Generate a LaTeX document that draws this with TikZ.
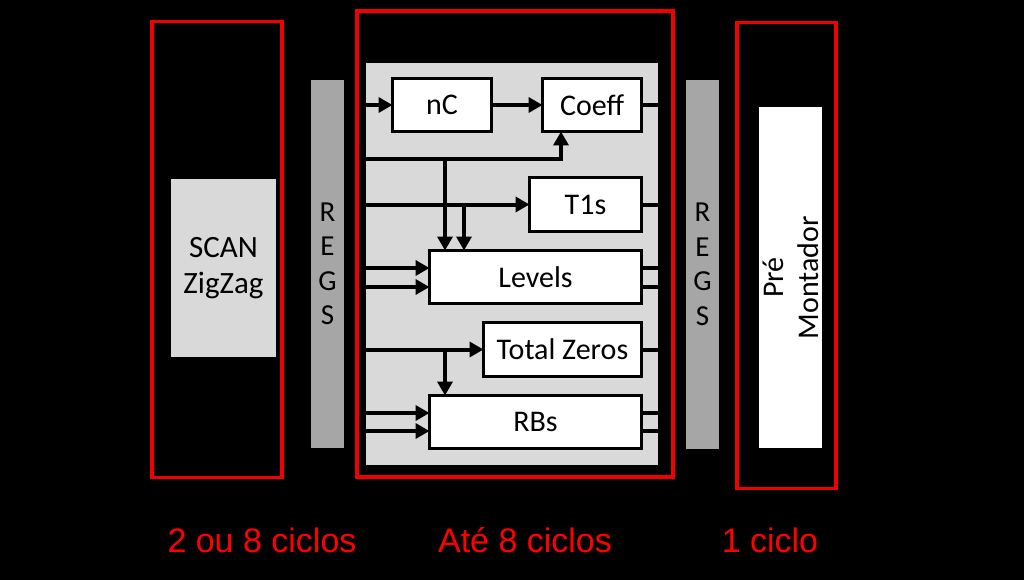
\documentclass[tikz,border=0pt]{standalone}
\usepackage{fontspec}
\setmainfont{Carlito}
\newfontfamily\arialf{Liberation Sans}
\usetikzlibrary{arrows.meta}
\definecolor{panelgrey}{HTML}{D9D9D9}
\definecolor{regsgrey}{HTML}{A6A6A6}
\definecolor{framered}{HTML}{F00000}
\tikzset{
  frame/.style={draw=framered, line width=3.5pt, inner sep=0pt, outer sep=0pt},
  blk/.style={draw=black, fill=white, line width=3.5pt, inner sep=0pt, outer sep=0pt, font=\fontsize{30}{32}\selectfont},
  regs/.style={fill=regsgrey, inner sep=0pt, outer sep=0pt, minimum width=33pt, minimum height=368pt, align=center, font=\fontsize{29}{34.5}\selectfont},
  arr/.style={line width=4pt, -{Triangle[length=14pt,width=15pt]}},
  stub/.style={line width=4pt},
  lbl/.style={text=red, font=\arialf\fontsize{34}{36}\selectfont}
}
\begin{document}
\begin{tikzpicture}[x=1pt,y=-1pt]
\fill[black] (0,0) rectangle (1024,580);
\useasboundingbox (0,0) rectangle (1024,580);

% left stage
\node[frame, minimum width=130pt, minimum height=456pt] (fL) at (217,249.5) {};
\node[fill=panelgrey, inner sep=0pt, minimum width=105pt, minimum height=178pt, align=center, font=\fontsize{31}{36}\selectfont] (scan) at (223.5,268) {SCAN\\ZigZag};
\node[regs] (regL) at (327.5,264) {R\\E\\G\\S};

% middle stage
\node[frame, minimum width=316pt, minimum height=466pt] (fM) at (515,244) {};
\node[fill=panelgrey, inner sep=0pt, outer sep=0pt, minimum width=292pt, minimum height=402pt] (panel) at (512,264) {};

\node[blk, minimum width=99pt, minimum height=53pt] (nC) at (442,105) {nC};
\node[blk, minimum width=99pt, minimum height=53pt] (coeff) at (592,105) {Coeff};
\node[blk, minimum width=112pt, minimum height=54pt] (t1s) at (585.5,204.5) {T1s};
\node[blk, minimum width=212pt, minimum height=53pt] (levels) at (535.5,277) {Levels};
\node[blk, minimum width=158pt, minimum height=54pt] (tz) at (562.5,349.5) {Total Zeros};
\node[blk, minimum width=212pt, minimum height=53pt] (rbs) at (535.5,422) {RBs};

% junction coordinates
\coordinate (j1) at (445,159);
\coordinate (j1c) at (561,159);
\coordinate (j2) at (464,205);
\coordinate (j3) at (445,349);

% nC / Coeff
\draw[arr] (panel.west |- nC.west) -- (nC.west);
\draw[arr] (nC.east) -- (coeff.west);
\draw[stub] (coeff.east) -- (panel.east |- coeff.east);
\draw[arr] (panel.west |- j1) -- (j1c) -- (coeff.south -| j1c);
\draw[arr] (j1) -- (levels.north -| j1);

% T1s
\draw[arr] (panel.west |- t1s.west) -- (t1s.west);
\draw[stub] (t1s.east) -- (panel.east |- t1s.east);
\draw[arr] (j2) -- (levels.north -| j2);

% Levels
\draw[arr] (panel.west |- 0,268) -- (levels.west |- 0,268);
\draw[arr] (panel.west |- 0,287) -- (levels.west |- 0,287);
\draw[stub] (levels.east |- 0,268) -- (panel.east |- 0,268);
\draw[stub] (levels.east |- 0,287) -- (panel.east |- 0,287);

% Total Zeros
\draw[arr] (panel.west |- tz.west) -- (tz.west);
\draw[stub] (tz.east) -- (panel.east |- tz.east);
\draw[arr] (j3) -- (rbs.north -| j3);

% RBs
\draw[arr] (panel.west |- 0,413) -- (rbs.west |- 0,413);
\draw[arr] (panel.west |- 0,431) -- (rbs.west |- 0,431);
\draw[stub] (rbs.east |- 0,413) -- (panel.east |- 0,413);
\draw[stub] (rbs.east |- 0,431) -- (panel.east |- 0,431);

% right stage
\node[regs] (regR) at (702.5,264.5) {R\\E\\G\\S};
\node[frame, minimum width=99pt, minimum height=466pt] (fR) at (786.5,255.5) {};
\node[fill=white, inner sep=0pt, minimum width=63pt, minimum height=341pt] (pre) at (790.5,277.5) {};
\node[rotate=90, align=center, font=\fontsize{30}{35}\selectfont] (pretxt) at (pre.center) {Pré\\Montador};

% labels
\node[lbl] (c1) at (262,540) {2 ou 8 ciclos};
\node[lbl] (c2) at (525,540) {Até 8 ciclos};
\node[lbl] (c3) at (770,540) {1 ciclo};
\end{tikzpicture}
\end{document}
